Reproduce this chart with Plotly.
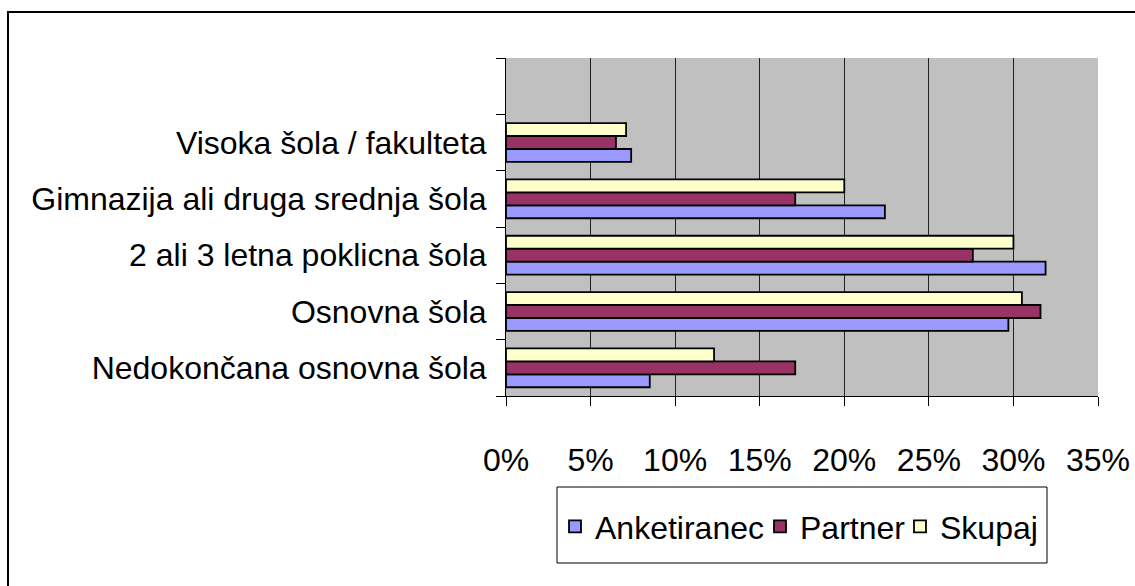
import plotly.graph_objects as go

categories = [
    "Nedokončana osnovna šola",
    "Osnovna šola",
    "2 ali 3 letna poklicna šola",
    "Gimnazija ali druga srednja šola",
    "Visoka šola / fakulteta",
]
anketiranec = [0.085, 0.297, 0.319, 0.224, 0.074]
partner = [0.171, 0.316, 0.276, 0.171, 0.065]
skupaj = [0.123, 0.305, 0.300, 0.200, 0.071]

series = [
    ("Anketiranec", anketiranec, "#9999FF"),
    ("Partner", partner, "#993366"),
    ("Skupaj", skupaj, "#FFFFCC"),
]

W, H = 1135, 586
FONT = "Liberation Sans, Arial, sans-serif"
pos = list(range(len(categories)))

# one legend per series so each entry can sit where the reference has it
legend_ids = ["legend", "legend2", "legend3"]
legend_x = [555, 760, 900]

fig = go.Figure()
for (name, vals, color), lid in zip(series, legend_ids):
    fig.add_trace(
        go.Bar(
            x=vals,
            y=pos,
            name=name,
            orientation="h",
            legend=lid,
            marker=dict(color=color, line=dict(color="black", width=1.8)),
        )
    )

legend_style = dict(
    orientation="h",
    y=1 - 499 / H,
    xanchor="left",
    yanchor="top",
    borderwidth=0,
    bgcolor="rgba(0,0,0,0)",
    font=dict(size=32),
    itemwidth=30,
)
legends = {lid: dict(legend_style, x=lx / W) for lid, lx in zip(legend_ids, legend_x)}

fig.update_layout(
    template="none",
    width=W,
    height=H,
    margin=dict(l=0, r=0, t=0, b=0, pad=0, autoexpand=False),
    paper_bgcolor="white",
    plot_bgcolor="#C0C0C0",
    barmode="group",
    bargap=0.31,
    bargroupgap=0,
    font=dict(family=FONT, size=32, color="black"),
    showlegend=True,
    **legends,
    xaxis=dict(
        domain=[506 / W, 1098 / W],
        range=[0, 0.35],
        dtick=0.05,
        tick0=0,
        tickformat=".0%",
        showgrid=True,
        gridcolor="#222222",
        gridwidth=1,
        zeroline=False,
        showline=True,
        linecolor="black",
        linewidth=1,
        ticks="outside",
        ticklen=9,
        tickcolor="black",
        ticklabelstandoff=27,
        automargin=False,
        fixedrange=True,
    ),
    yaxis=dict(
        domain=[1 - 396 / H, 1 - 58 / H],
        range=[-0.5, 5.5],
        tickmode="array",
        tickvals=pos,
        ticktext=categories,
        ticks="",
        showgrid=False,
        zeroline=False,
        showline=True,
        linecolor="black",
        linewidth=1,
        ticklabelstandoff=12,
        automargin=False,
        minor=dict(
            tickmode="array",
            tickvals=[i - 0.5 for i in range(len(categories) + 2)],
            ticks="outside",
            ticklen=9,
            tickcolor="black",
            showgrid=False,
        ),
        fixedrange=True,
    ),
    shapes=[
        # outer chart border
        dict(
            type="rect",
            xref="paper",
            yref="paper",
            x0=8 / W,
            x1=1.02,
            y0=-0.02,
            y1=1 - 12 / H,
            line=dict(color="black", width=2),
            fillcolor="rgba(0,0,0,0)",
            layer="below",
        ),
        # legend box
        dict(
            type="rect",
            xref="paper",
            yref="paper",
            x0=557 / W,
            x1=1047 / W,
            y0=1 - 563 / H,
            y1=1 - 487 / H,
            line=dict(color="black", width=1),
            fillcolor="white",
            layer="below",
        ),
    ],
)

fig.write_html(
    "out.html",
    config={"displayModeBar": False},
    post_script="document.body.style.margin='0px';",
)
